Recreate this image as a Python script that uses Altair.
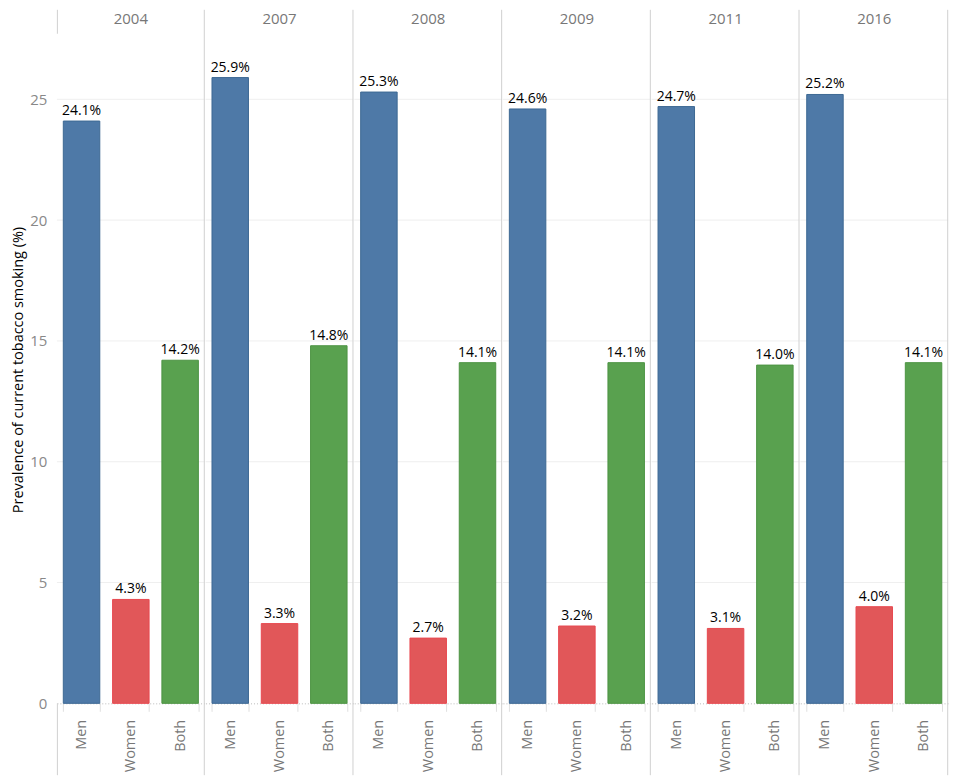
import altair as alt
import pandas as pd

years = ['2004', '2007', '2008', '2009', '2011', '2016']
groups = ['Men', 'Women', 'Both']
men = [24.1, 25.9, 25.3, 24.6, 24.7, 25.2]
women = [4.3, 3.3, 2.7, 3.2, 3.1, 4.0]
both = [14.2, 14.8, 14.1, 14.1, 14.0, 14.1]
colors = ['#4e79a7', '#e15759', '#59a14f']
strokes = ['#3d6894', '#e8484f', '#4c9443']
y_ticks = [0, 5, 10, 15, 20, 25]
grid_values = [5, 10, 15, 20, 25]

rows = []
for i, yr in enumerate(years):
    for g, vals in zip(groups, [men, women, both]):
        rows.append({'year': yr, 'group': g, 'value': vals[i]})
df = pd.DataFrame(rows)
grid_df = pd.DataFrame({'v': grid_values})

W = 148.2
H = 669
TOP = -26
FONT = 'Open Sans'
LINE = '#d0d0d0'
YSCALE = alt.Scale(domain=[0, 27.63], nice=False, zero=True)


def panel(yr, first):
    d = df[df['year'] == yr]
    base = alt.Chart(d)
    x = alt.X('group:N', sort=groups,
              scale=alt.Scale(paddingInner=0.26, paddingOuter=0.13),
              axis=alt.Axis(title=None, labelAngle=-90, labelFontSize=14.5, labelColor='#777777',
                            labelFont=FONT, labelPadding=8, ticks=True, tickBand='extent',
                            tickColor='#e0e0e0', tickSize=8, domain=True, domainColor='#bbbbbb',
                            domainDash=[1, 2], domainWidth=1))
    if first:
        yaxis = alt.Axis(values=y_ticks, title='Prevalence of current tobacco smoking (%)',
                         titleFontSize=14.5, titleFontWeight='normal', titleColor='#000000',
                         titleFont=FONT, titlePadding=4, labelFontSize=15, labelColor='#888888',
                         labelFont=FONT, labelPadding=10, ticks=False, domain=False, grid=False)
    else:
        yaxis = None

    grid = alt.Chart(grid_df).mark_rule(color='#efefef', strokeWidth=1).encode(
        y=alt.Y('v:Q', scale=YSCALE, axis=yaxis))

    bars = base.mark_bar(strokeWidth=1).encode(
        x=x, y=alt.Y('value:Q', scale=YSCALE, axis=yaxis),
        color=alt.Color('group:N', scale=alt.Scale(domain=groups, range=colors), legend=None),
        stroke=alt.Stroke('group:N', scale=alt.Scale(domain=groups, range=strokes), legend=None),
    )
    labels = base.transform_calculate(
        label="format(datum.value, '.1f') + '%'"
    ).mark_text(baseline='alphabetic', dy=-6, fontSize=14, font=FONT, color='#000000').encode(
        x=alt.X('group:N', sort=groups), y=alt.Y('value:Q', scale=YSCALE, axis=yaxis),
        text='label:N'
    )
    one = base.transform_filter("datum.group == 'Men'")
    header = one.mark_text(fontSize=15, font=FONT, color='#777777', baseline='middle',
                           align='center').encode(
        x=alt.value(W / 2), y=alt.value(-17), text='year:N')
    divider = one.mark_rule(color=LINE, strokeWidth=1).encode(
        x=alt.value(W - 0.5), y=alt.value(TOP), y2=alt.value(H + 72))
    layers = [grid, bars, labels, header, divider]
    if first:
        layers.append(one.mark_rule(color=LINE, strokeWidth=1).encode(
            x=alt.value(0.5), y=alt.value(TOP), y2=alt.value(-2)))
        layers.append(one.mark_rule(color=LINE, strokeWidth=1).encode(
            x=alt.value(0.5), y=alt.value(H), y2=alt.value(H + 72)))
    return alt.layer(*layers).properties(width=W, height=H)


panels = [panel(yr, i == 0) for i, yr in enumerate(years)]

chart = alt.hconcat(*panels, spacing=0, bounds='flush').properties(
    padding={'left': 2, 'top': 0, 'right': 0, 'bottom': 0}
).configure_view(stroke=None)

chart.save("out.html", embed_options={"renderer": "svg", "actions": False})
